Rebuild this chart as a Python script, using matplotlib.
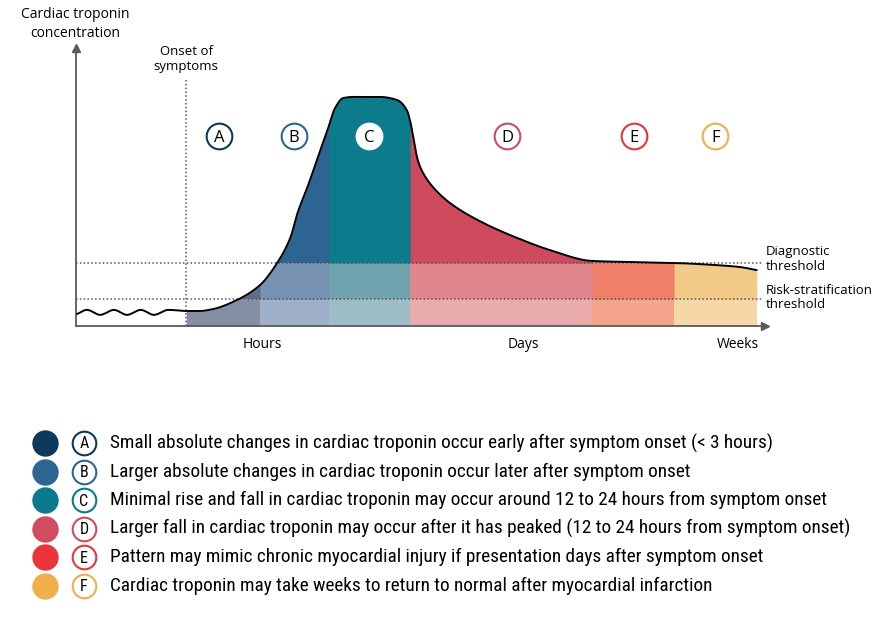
import numpy as np
import matplotlib
matplotlib.use("Agg")
import matplotlib.pyplot as plt
from matplotlib import font_manager as fm

# curve (x: time, arbitrary units; y: concentration)
curve_x = [0.15, 1.6, 3.5, 5.5, 7.4, 9.4, 11.3, 13.4, 16.0, 18.0, 19.9, 23.4, 26.7,
           29.2, 31.1, 32.2, 33.7, 35.1, 36.6, 37.6, 38.8, 40.2, 44.1, 46.6, 48.0,
           48.5, 48.9, 49.6, 50.3, 51.8, 54.3, 59.1, 64.0, 68.8, 74.9, 80.8, 86.6,
           93.0, 96.4, 98.8]
curve_y = [4.3, 5.8, 4.0, 5.8, 4.0, 5.8, 4.0, 5.8, 5.4, 5.4, 6.1, 9.4, 14.7,
           22.7, 31.7, 41.0, 50.7, 60.8, 71.2, 78.4, 82.0, 82.4, 82.4, 81.3, 77.7,
           73.7, 68.7, 59.7, 55.4, 50.0, 44.2, 37.1, 31.7, 27.3, 23.4, 23.0, 22.7,
           21.9, 21.2, 20.1]

onset = 16.0
diagnostic = 22.7
risk = 9.7
phase_edges = [16.0, 26.7, 36.7, 48.5, 74.9, 86.8, 98.8]
phase_letters = ["A", "B", "C", "D", "E", "F"]
label_x = [20.8, 31.6, 42.5, 62.6, 81.0, 92.8]

legend_texts = [
    "Small absolute changes in cardiac troponin occur early after symptom onset (< 3 hours)",
    "Larger absolute changes in cardiac troponin occur later after symptom onset",
    "Minimal rise and fall in cardiac troponin may occur around 12 to 24 hours from symptom onset",
    "Larger fall in cardiac troponin may occur after it has peaked (12 to 24 hours from symptom onset)",
    "Pattern may mimic chronic myocardial injury if presentation days after symptom onset",
    "Cardiac troponin may take weeks to return to normal after myocardial infarction",
]

main_c = ["#0f3a5e", "#2e6491", "#0c7b8c", "#cf4a5d", "#ee6f55", "#f0c07a"]
mid_c = ["#5e6d88", "#7892b3", "#6fa4af", "#df878c", "#f07f69", "#f2c987"]
low_c = ["#858fa4", "#9eb0ca", "#9cbec7", "#eaabac", "#f4a48b", "#f6d8a7"]
key_c = ["#0d3a5c", "#2f6592", "#0c7a8c", "#d04c5e", "#e8343a", "#efb04b"]

names = {f.name for f in fm.fontManager.ttflist}
narrow = "Liberation Sans"
for n in ["Liberation Sans Narrow", "Roboto Condensed", "Open Sans Condensed"]:
    if n in names:
        narrow = n
        break
leg_fs = 12.3 if narrow == "Liberation Sans" else 13.85
base = "Open Sans" if "Open Sans" in names else "DejaVu Sans"
plt.rcParams["font.family"] = [base, "DejaVu Sans"]


def smooth(xp, yp, n=14):
    # monotone cubic through the read points, only for drawing
    xp = np.asarray(xp, float)
    yp = np.asarray(yp, float)
    h = np.diff(xp)
    d = np.diff(yp) / h
    m = np.zeros_like(yp)
    for k in range(1, len(xp) - 1):
        if d[k - 1] * d[k] > 0:
            w1 = 2 * h[k] + h[k - 1]
            w2 = h[k] + 2 * h[k - 1]
            m[k] = (w1 + w2) / (w1 / d[k - 1] + w2 / d[k])
    m[0] = d[0]
    m[-1] = d[-1]
    xs, ys = [], []
    for i in range(len(xp) - 1):
        t = np.linspace(0, 1, n, endpoint=False)
        h00 = 2 * t**3 - 3 * t**2 + 1
        h10 = t**3 - 2 * t**2 + t
        h01 = -2 * t**3 + 3 * t**2
        h11 = t**3 - t**2
        xs.append(xp[i] + t * h[i])
        ys.append(h00 * yp[i] + h10 * h[i] * m[i] + h01 * yp[i + 1] + h11 * h[i] * m[i + 1])
    xs.append([xp[-1]])
    ys.append([yp[-1]])
    return np.concatenate(xs), np.concatenate(ys)


sx, sy = smooth(curve_x, curve_y)

fig = plt.figure(figsize=(8.83, 6.4), dpi=100)
W, H = 883, 640
ax = fig.add_axes([76 / W, 1 - 326 / H, 689 / W, 278 / H])
ax.set_xlim(0, 100)
ax.set_ylim(0, 100)

# phase fills
for i in range(6):
    a, b = phase_edges[i], phase_edges[i + 1]
    if i < 5:
        b += 0.2
    xx = np.linspace(a, b, 300)
    yy = np.interp(xx, sx, sy)
    ax.fill_between(xx, 0, np.minimum(yy, risk), color=low_c[i], lw=0)
    ax.fill_between(xx, risk, np.clip(yy, risk, diagnostic), color=mid_c[i], lw=0)
    ax.fill_between(xx, diagnostic, np.maximum(yy, diagnostic), color=main_c[i], lw=0)

# thresholds and onset
dots = (0, (1, 1.5))
ax.plot([0, 99.6], [diagnostic, diagnostic], color="#555555", lw=1.1, ls=dots)
ax.plot([0, 99.6], [risk, risk], color="#555555", lw=1.1, ls=dots)
ax.plot([onset, onset], [0, 88.5], color="#555555", lw=1.1, ls=dots, clip_on=False)

ax.plot(sx, sy, color="black", lw=1.4, solid_capstyle="round", zorder=5)

# axes with arrows
for s in ["top", "right"]:
    ax.spines[s].set_visible(False)
for s in ["left", "bottom"]:
    ax.spines[s].set_color("#5a5a5a")
    ax.spines[s].set_linewidth(1.3)
ax.set_xticks([])
ax.set_yticks([])
ax.plot(1, 0, ">", color="#5a5a5a", ms=6, transform=ax.transAxes, clip_on=False)
ax.plot(0, 1, "^", color="#5a5a5a", ms=6, transform=ax.transAxes, clip_on=False)

# phase labels
for i, L in enumerate(phase_letters):
    edge = "white" if L == "C" else key_c[i]
    ax.plot(label_x[i], 68.3, "o", ms=18.5, mfc="white", mec=edge, mew=1.5,
            clip_on=False, zorder=6)
    ax.text(label_x[i], 67.7, L, ha="center", va="center", fontsize=12, zorder=7)

fs = 10
fig.text(75 / W, 1 - 24 / H, "Cardiac troponin\nconcentration", ha="center", va="center",
         fontsize=fs, linespacing=1.35)
fig.text(186 / W, 1 - 59 / H, "Onset of\nsymptoms", ha="center", va="center",
         fontsize=9.5, linespacing=1.25)
for t, x in [("Hours", 262), ("Days", 523), ("Weeks", 738)]:
    fig.text(x / W, 1 - 344 / H, t, ha="center", va="center", fontsize=fs)
fig.text(766 / W, 1 - 259.5 / H, "Diagnostic\nthreshold", ha="left", va="center",
         fontsize=9.5, linespacing=1.2)
fig.text(766 / W, 1 - 297.5 / H, "Risk-stratification\nthreshold", ha="left", va="center",
         fontsize=9.5, linespacing=1.2)

# legend
lg = fig.add_axes([0, 0, 1, 1])
lg.set_xlim(0, W)
lg.set_ylim(H, 0)
lg.axis("off")
for i, t in enumerate(legend_texts):
    y = 443 + i * 28.6
    lg.plot(45, y, "o", ms=19, mfc=key_c[i], mec="none")
    lg.plot(84, y, "o", ms=17, mfc="white", mec=key_c[i], mew=1.5)
    lg.text(84, y + 0.8, phase_letters[i], ha="center", va="center", fontsize=11.5,
            family=[narrow, "DejaVu Sans"])
    lg.text(110, y, t, ha="left", va="center", fontsize=leg_fs, family=[narrow, "DejaVu Sans"])

fig.savefig("out.png", dpi=100)
